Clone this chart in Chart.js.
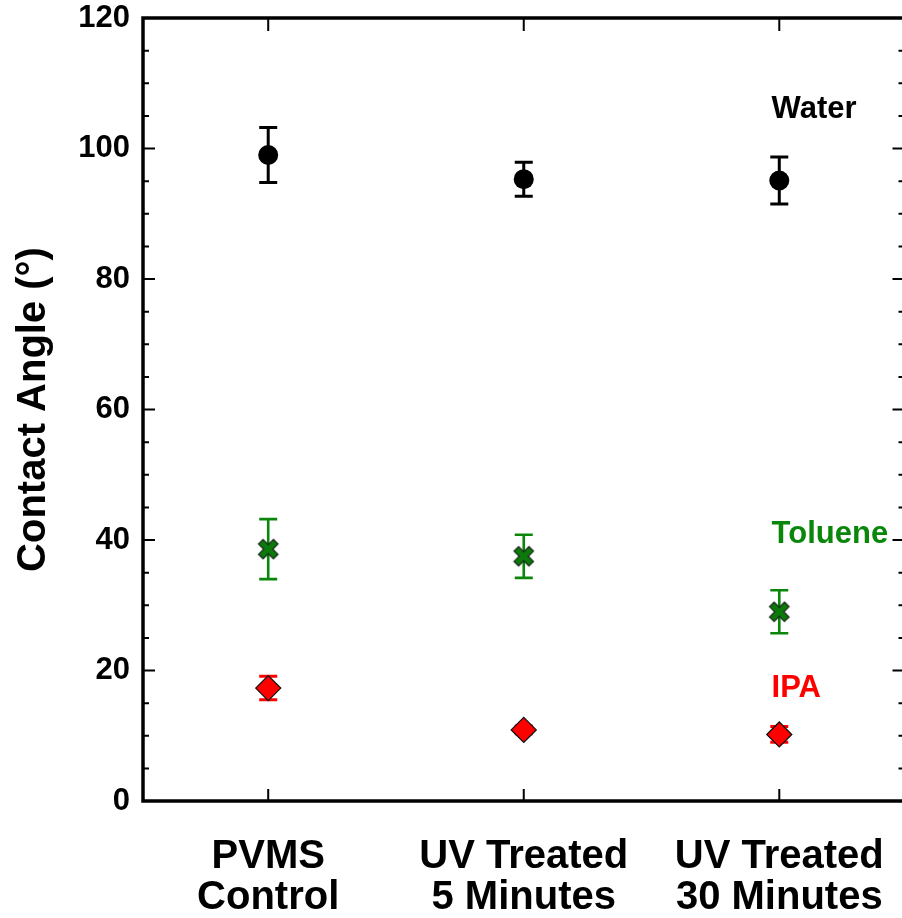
<!DOCTYPE html>
<html>
<head>
<meta charset="utf-8">
<script src="https://cdn.jsdelivr.net/npm/chart.js@4.4.1/dist/chart.umd.min.js"></script>
<style>
    html, body { margin: 0; padding: 0; background: #fff; overflow: hidden; }
    #wrap { position: absolute; left: 0; top: 0; }
</style>
</head>
<body>
<div id="wrap"><canvas id="angleChart" width="910" height="918"></canvas></div>
<script>
// Sample groups (x positions 1..3)
const categories = [['PVMS', 'Control'], ['UV Treated', '5 Minutes'], ['UV Treated', '30 Minutes']];
const xPositions = [1, 2, 3];

// Contact angles (degrees) and error bars
const waterAngle = [99.0, 95.3, 95.1];
const waterErr = [4.2, 2.6, 3.6];
const tolueneAngle = [38.6, 37.5, 29.0];
const tolueneErr = [4.6, 3.3, 3.3];
const ipaAngle = [17.3, 10.9, 10.2];
const ipaErr = [1.8, 0.6, 1.2];

// In-plot series labels
const seriesNames = ['Water', 'Toluene', 'IPA'];
const seriesLabelY = [106.0, 40.8, 17.2];
const seriesLabelX = 2.97;

const yTicks = [0, 20, 40, 60, 80, 100, 120];

const FONT = 'Arial, "Liberation Sans", Helvetica, sans-serif';
const GREEN = '#0a870a';
const RED = '#ff0000';

function toPoints(values) {
    return values.map((v, i) => ({ x: xPositions[i], y: v }));
}

// Filled "X" marker with dark outline
function makeCrossMarker() {
    const c = document.createElement('canvas');
    c.width = 24;
    c.height = 24;
    const g = c.getContext('2d');
    g.translate(12, 12);
    g.rotate(Math.PI / 4);
    const a = 3.2, b = 10.5;
    g.beginPath();
    g.moveTo(-a, -b); g.lineTo(a, -b); g.lineTo(a, -a); g.lineTo(b, -a);
    g.lineTo(b, a); g.lineTo(a, a); g.lineTo(a, b); g.lineTo(-a, b);
    g.lineTo(-a, a); g.lineTo(-b, a); g.lineTo(-b, -a); g.lineTo(-a, -a);
    g.closePath();
    g.fillStyle = '#0b7a0b';
    g.fill();
    g.lineWidth = 1.3;
    g.strokeStyle = '#1a2a1a';
    g.stroke();
    return c;
}

const errorSets = [
    { values: waterAngle, errors: waterErr, color: '#000000', width: 3 },
    { values: tolueneAngle, errors: tolueneErr, color: GREEN, width: 2.6 },
    { values: ipaAngle, errors: ipaErr, color: RED, width: 3 }
];

const framePlugin = {
    id: 'frame',
    beforeDatasetsDraw(chart) {
        const ctx = chart.ctx;
        const x = chart.scales.x, y = chart.scales.y;
        ctx.save();
        // error bars
        errorSets.forEach(set => {
            ctx.strokeStyle = set.color;
            ctx.lineWidth = set.width;
            set.values.forEach((v, i) => {
                const px = x.getPixelForValue(xPositions[i]);
                const top = y.getPixelForValue(v + set.errors[i]);
                const bot = y.getPixelForValue(v - set.errors[i]);
                ctx.beginPath();
                ctx.moveTo(px, top); ctx.lineTo(px, bot);
                ctx.moveTo(px - 9, top); ctx.lineTo(px + 9, top);
                ctx.moveTo(px - 9, bot); ctx.lineTo(px + 9, bot);
                ctx.stroke();
            });
        });
        ctx.restore();
    },
    afterDraw(chart) {
        const ctx = chart.ctx;
        const a = chart.chartArea;
        const x = chart.scales.x, y = chart.scales.y;
        ctx.save();
        ctx.strokeStyle = '#000';
        // inward ticks
        ctx.lineWidth = 2;
        for (let v = 0; v <= 120; v += 5) {
            const py = y.getPixelForValue(v);
            const len = v % 20 === 0 ? 12 : 6;
            ctx.beginPath();
            ctx.moveTo(a.left, py); ctx.lineTo(a.left + len, py);
            ctx.moveTo(a.right, py); ctx.lineTo(a.right - len, py);
            ctx.stroke();
        }
        xPositions.forEach(v => {
            const px = x.getPixelForValue(v);
            ctx.beginPath();
            ctx.moveTo(px, a.top); ctx.lineTo(px, a.top + 13);
            ctx.moveTo(px, a.bottom); ctx.lineTo(px, a.bottom - 12);
            ctx.stroke();
        });
        // frame
        ctx.lineWidth = 3.5;
        ctx.strokeRect(a.left, a.top, a.right - a.left, a.bottom - a.top);
        // series labels
        ctx.font = 'bold 31px ' + FONT;
        ctx.textAlign = 'left';
        ctx.textBaseline = 'middle';
        const colors = ['#000000', GREEN, RED];
        seriesNames.forEach((name, i) => {
            ctx.fillStyle = colors[i];
            ctx.fillText(name, x.getPixelForValue(seriesLabelX), y.getPixelForValue(seriesLabelY[i]));
        });
        ctx.restore();
    }
};

new Chart(document.getElementById('angleChart'), {
    type: 'scatter',
    data: {
        datasets: [
            {
                label: 'Water',
                data: toPoints(waterAngle),
                pointStyle: 'circle',
                pointRadius: 10,
                backgroundColor: '#000',
                borderColor: '#000',
                borderWidth: 0
            },
            {
                label: 'Toluene',
                data: toPoints(tolueneAngle),
                pointStyle: makeCrossMarker(),
                pointRadius: 12
            },
            {
                label: 'IPA',
                data: toPoints(ipaAngle),
                pointStyle: 'rectRot',
                pointRadius: 12.5,
                backgroundColor: RED,
                borderColor: '#111',
                borderWidth: 1.3
            }
        ]
    },
    options: {
        responsive: false,
        animation: false,
        layout: { autoPadding: false, padding: { top: 18, right: 5.5, left: 0, bottom: 0 } },
        plugins: {
            legend: { display: false },
            tooltip: { enabled: false }
        },
        scales: {
            x: {
                type: 'linear',
                min: 0.51,
                max: 3.49,
                grid: { display: false, drawTicks: false },
                border: { display: false },
                afterBuildTicks(scale) {
                    scale.ticks = xPositions.map(v => ({ value: v }));
                },
                afterFit(scale) {
                    scale.height = 117;
                    scale.paddingLeft = 0;
                    scale.paddingRight = 0;
                },
                ticks: {
                    color: '#000',
                    padding: 36,
                    maxRotation: 0,
                    font: { family: FONT, size: 40, weight: 'bold', lineHeight: 1.02 },
                    callback: (value) => categories[xPositions.indexOf(value)] || ''
                }
            },
            y: {
                min: 0,
                max: 120,
                grid: { display: false, drawTicks: false },
                border: { display: false },
                afterBuildTicks(scale) {
                    scale.ticks = yTicks.map(v => ({ value: v }));
                },
                afterFit(scale) {
                    scale.width = 143;
                    scale.paddingTop = 0;
                    scale.paddingBottom = 0;
                },
                ticks: {
                    color: '#000',
                    padding: 13,
                    font: { family: FONT, size: 31, weight: 'bold' }
                },
                title: {
                    display: true,
                    text: 'Contact Angle (°)',
                    color: '#000',
                    padding: { top: 10, bottom: 0 },
                    font: { family: FONT, size: 40, weight: 'bold' }
                }
            }
        }
    },
    plugins: [framePlugin]
});
</script>
</body>
</html>
